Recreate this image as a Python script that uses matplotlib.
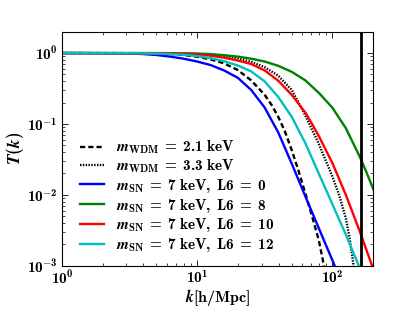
import math
import matplotlib
matplotlib.use("Agg")
import matplotlib.pyplot as plt
from matplotlib.ticker import FuncFormatter, NullFormatter

plt.rcParams['mathtext.fontset'] = 'custom'
plt.rcParams['mathtext.rm'] = 'cmb10'
plt.rcParams['mathtext.bf'] = 'cmb10'
plt.rcParams['mathtext.it'] = 'STIXGeneral:italic:bold'
plt.rcParams['font.family'] = ['DejaVu Serif']

# ---- data ----
k_wdm21 = [1, 3.16, 5.01, 6.31, 7.94, 10, 12.6, 15.8, 20.0, 25.1, 31.6, 35.5, 39.8, 44.7,
           50.1, 56.2, 63.1, 70.8, 79.4, 85.1, 89.1]
T_wdm21 = [1.0, 0.998, 0.986, 0.968, 0.938, 0.887, 0.813, 0.716, 0.575, 0.412, 0.257, 0.186,
           0.126, 0.0776, 0.0427, 0.0219, 0.0105, 0.00501, 0.00229, 0.00120, 0.000708]

k_wdm33 = [1, 5.01, 7.94, 10, 12.6, 15.8, 20.0, 25.1, 31.6, 39.8, 50.1, 63.1, 79.4, 100,
           112.2, 125.9, 133.4, 141.3, 147.9]
T_wdm33 = [1.0, 0.993, 0.982, 0.968, 0.944, 0.906, 0.841, 0.750, 0.631, 0.479, 0.302, 0.132,
           0.0525, 0.0182, 0.0100, 0.00468, 0.00263, 0.00126, 0.00063]

k_L0 = [1, 2.0, 3.16, 3.98, 5.01, 6.31, 7.94, 10, 12.6, 15.8, 20.0, 25.1, 31.6, 39.8, 50.1,
        63.1, 79.4, 100, 112.2]
T_L0 = [1.0, 0.9954, 0.984, 0.968, 0.938, 0.891, 0.832, 0.759, 0.676, 0.569, 0.447, 0.302,
        0.170, 0.0759, 0.0275, 0.00955, 0.00339, 0.00120, 0.000708]

k_L8 = [1, 5.01, 10, 12.6, 15.8, 20.0, 25.1, 31.6, 39.8, 50.1, 63.1, 79.4, 100, 125.9,
        158.5, 177.8, 204.2]
T_L8 = [1.0, 1.0, 0.984, 0.966, 0.933, 0.891, 0.832, 0.759, 0.661, 0.543, 0.412, 0.275,
        0.170, 0.0871, 0.0355, 0.0214, 0.0112]

k_L10 = [1, 5.01, 7.94, 10, 12.6, 15.8, 20.0, 25.1, 31.6, 39.8, 50.1, 63.1, 70.8, 79.4,
         100, 125.9, 158.5, 199.5, 204.2]
T_L10 = [1.0, 0.993, 0.977, 0.955, 0.918, 0.861, 0.785, 0.700, 0.569, 0.407, 0.257, 0.145,
         0.100, 0.0676, 0.0282, 0.0100, 0.00316, 0.000933, 0.00083]

k_L12 = [1, 3.16, 5.01, 6.31, 7.94, 10, 12.6, 15.8, 20.0, 25.1, 31.6, 39.8, 50.1, 63.1,
         79.4, 100, 125.9, 158.5, 177.8]
T_L12 = [1.0, 0.995, 0.982, 0.966, 0.944, 0.906, 0.847, 0.767, 0.668, 0.550, 0.398, 0.240,
         0.126, 0.0537, 0.0200, 0.00741, 0.00275, 0.000955, 0.000562]

k_cut = 163.0

labels = [r'$m_{\rm WDM}\ =\ 2.1\ {\rm keV}$',
          r'$m_{\rm WDM}\ =\ 3.3\ {\rm keV}$',
          r'$m_{\rm SN}\ =\ 7\ {\rm keV},\ {\rm L6}\ =\ 0$',
          r'$m_{\rm SN}\ =\ 7\ {\rm keV},\ {\rm L6}\ =\ 8$',
          r'$m_{\rm SN}\ =\ 7\ {\rm keV},\ {\rm L6}\ =\ 10$',
          r'$m_{\rm SN}\ =\ 7\ {\rm keV},\ {\rm L6}\ =\ 12$']

fig = plt.figure(figsize=(4.15, 3.13), dpi=100)
ax = fig.add_axes([0.1494, 0.1511, 0.7494, 0.7476])

lw = 1.7
ax.plot(k_wdm21, T_wdm21, color='k', lw=lw, linestyle=(0, (2.2, 1.3)), label=labels[0])
ax.plot(k_wdm33, T_wdm33, color='k', lw=lw, linestyle=(0, (0.6, 0.6)), label=labels[1])
ax.plot(k_L0, T_L0, color='b', lw=lw, label=labels[2])
ax.plot(k_L8, T_L8, color='g', lw=lw, label=labels[3])
ax.plot(k_L10, T_L10, color='r', lw=lw, label=labels[4])
ax.plot(k_L12, T_L12, color='c', lw=lw, label=labels[5])
ax.axvline(k_cut, color='k', lw=2.0)

ax.set_xscale('log')
ax.set_yscale('log')
ax.set_xlim(1, 200)
ax.set_ylim(1e-3, 2)

fmt = FuncFormatter(lambda v, p: r'$10^{%d}$' % round(math.log10(v)))
ax.xaxis.set_major_formatter(fmt)
ax.yaxis.set_major_formatter(fmt)
ax.xaxis.set_minor_formatter(NullFormatter())
ax.yaxis.set_minor_formatter(NullFormatter())
ax.tick_params(which='both', direction='in', top=True, right=True, labelsize=11)
ax.tick_params(which='major', length=4, width=0.6)
ax.tick_params(which='minor', length=2, width=0.5)
ax.tick_params(axis='x', pad=2.5)
ax.tick_params(axis='y', pad=3)
for s in ax.spines.values():
    s.set_linewidth(0.8)

ax.set_xlabel(r'$k[{\rm h/Mpc}]$', fontsize=11.5, labelpad=0)
ax.set_ylabel(r'$T(k)$', fontsize=12.5, labelpad=1)

ax.legend(loc='lower left', frameon=False, fontsize=11, handlelength=1.6,
          handletextpad=0.8, labelspacing=0.12, borderaxespad=0.35,
          bbox_to_anchor=(0.02, 0.0))

fig.savefig('out.png', dpi=100)
